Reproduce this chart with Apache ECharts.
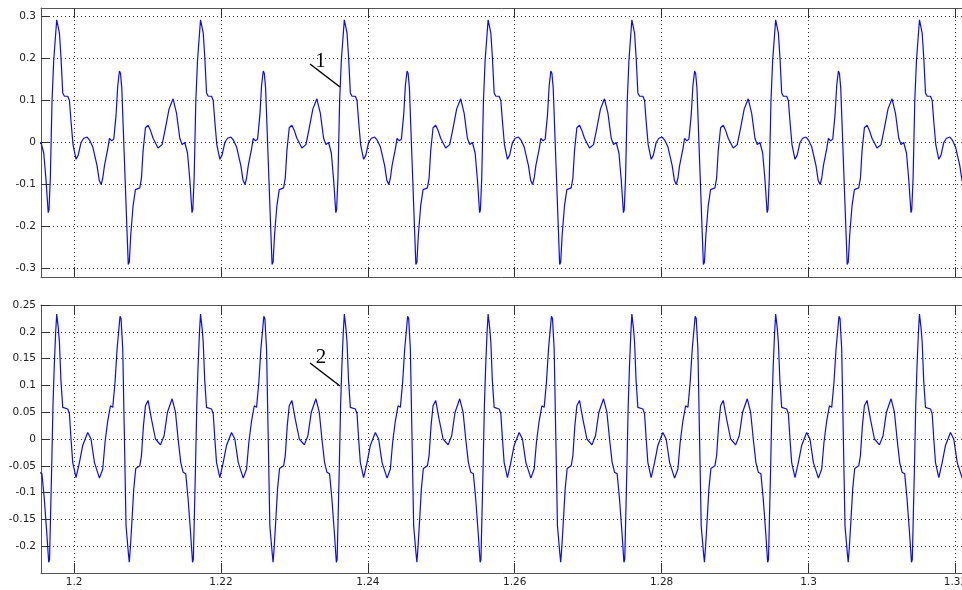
<!DOCTYPE html>
<html>
<head>
<meta charset="utf-8">
<script src="https://cdn.jsdelivr.net/npm/echarts@6/dist/echarts.min.js"></script>
<style>
html, body { margin: 0; padding: 0; background: #fff; }
#chart { width: 962px; height: 590px; }
</style>
</head>
<body>
<div id="chart"></div>
<script>
// time axis (s)
const xMin = 1.1955
const xMax = 1.3209
const xTicks = [1.2, 1.22, 1.24, 1.26, 1.28, 1.3, 1.32]
const topTicks = [-0.3, -0.2, -0.1, 0, 0.1, 0.2, 0.3]
const bottomTicks = [-0.2, -0.15, -0.1, -0.05, 0, 0.05, 0.1, 0.15, 0.2, 0.25]

// times of the big positive spike of each cycle
const cycleStarts = [1.17806, 1.19764, 1.21722, 1.23680, 1.25638, 1.27595, 1.29553, 1.31511]

// one cycle of curve 1, offsets from the spike in ms
const topOffsetsMs = [0, 0.14, 0.37, 0.59, 0.82, 1.05, 1.50, 1.73, 1.95, 2.22, 2.63, 2.93, 3.31, 3.68, 4.13,
    4.50, 4.90, 5.49, 5.79, 6.04, 6.27, 6.50, 6.95, 7.18, 7.49, 7.77, 8.08, 8.31, 8.54, 8.68, 8.86, 9.13,
    9.36, 9.58, 9.74, 9.88, 10.08, 10.40, 10.72, 11.31, 11.54, 11.76, 12.08, 12.44, 12.74, 13.12, 13.80,
    14.35, 14.81, 15.30, 15.84, 16.01, 16.31, 16.76, 17.07, 17.44, 17.81, 18.12, 18.42, 18.53, 18.71,
    18.94, 19.17]
const topValues = [0.292, 0.29, 0.26, 0.2, 0.118, 0.11, 0.11, 0.1, 0.05, -0.005, -0.04, -0.03, 0, 0.01, 0.013,
    0.005, -0.01, -0.055, -0.09, -0.1, -0.085, -0.055, -0.015, 0.01, 0.004, 0.008, 0.065, 0.135, 0.17, 0.165, 0.13, 0,
    -0.11, -0.215, -0.29, -0.285, -0.22, -0.15, -0.112, -0.108, -0.085, -0.02, 0.035, 0.041, 0.03, 0.01, -0.013,
    -0.005, 0.035, 0.08, 0.104, 0.1, 0.07, 0.01, -0.005, 0, -0.025, -0.088, -0.167, -0.16, -0.085,
    0.098, 0.195]

// one cycle of curve 2
const bottomOffsetsMs = [0, 0.14, 0.23, 0.37, 0.57, 0.82, 1.05, 1.50, 1.73, 1.95, 2.18, 2.63, 3.09, 3.54, 4.22,
    4.67, 5.14, 5.82, 6.27, 6.58, 6.95, 7.32, 7.63, 7.94, 8.22, 8.62, 8.76, 8.99, 9.22, 9.44, 9.77, 9.88,
    10.04, 10.26, 10.49, 10.76, 11.31, 11.54, 11.81, 12.08, 12.44, 12.90, 13.45, 14.13, 14.62, 15.08, 15.71,
    16.17, 16.53, 16.89, 17.21, 17.57, 17.89, 18.22, 18.49, 18.60, 18.71, 18.90, 19.07, 19.25, 19.44]
const bottomValues = [0.233, 0.23, 0.205, 0.18, 0.11, 0.059, 0.056, 0.056, 0.047, 0, -0.044, -0.072, -0.044, -0.012, 0.012,
    0, -0.044, -0.073, -0.056, -0.006, 0.034, 0.062, 0.059, 0.106, 0.168, 0.229, 0.225, 0.168, 0, -0.162, -0.215, -0.23,
    -0.2, -0.149, -0.093, -0.055, -0.05, -0.031, 0.025, 0.062, 0.072, 0.037, 0, -0.011, 0.006, 0.05, 0.075,
    0.05, 0, -0.044, -0.062, -0.065, -0.112, -0.174, -0.23, -0.225, -0.162, -0.05, 0.062, 0.137, 0.2]

function buildWave(offsetsMs, values) {
    let pts = []
    for (const t0 of cycleStarts) {
        for (let i = 0; i < offsetsMs.length; i++) {
            pts.push([t0 + offsetsMs[i] / 1000, values[i]])
        }
    }
    return pts
}

function fmt(v) {
    return String(+v.toFixed(2))
}

const frameColor = '#555'
const dotted = { color: '#333', width: 1, type: [1, 3] }
const labelStyle = { fontFamily: 'DejaVu Sans', fontSize: 10.5, color: '#222', formatter: fmt }

function xAxisFor(grid, pos, withLabels) {
    return {
        type: 'value', gridIndex: grid, position: pos, min: xMin, max: xMax,
        axisLine: { onZero: false, lineStyle: { color: frameColor, width: 1 } },
        axisTick: { inside: true, length: 10, customValues: xTicks, lineStyle: { color: '#333' } },
        axisLabel: Object.assign({ show: withLabels, customValues: xTicks, margin: 4, hideOverlap: false }, labelStyle),
        splitLine: { show: pos === 'bottom', lineStyle: dotted }
    }
}

function yAxisFor(grid, min, max, ticks) {
    return {
        type: 'value', gridIndex: grid, min: min, max: max,
        axisLine: { show: true, onZero: false, lineStyle: { color: frameColor, width: 1 } },
        axisTick: { show: true, inside: true, length: 9, customValues: ticks, lineStyle: { color: '#333' } },
        axisLabel: Object.assign({ customValues: ticks, margin: 5 }, labelStyle),
        splitLine: { show: true, lineStyle: dotted }
    }
}

function waveSeries(xi, yi, data) {
    return {
        type: 'line', xAxisIndex: xi, yAxisIndex: yi, data: data,
        showSymbol: false, smooth: false, clip: true,
        lineStyle: { color: '#0a0aff', width: 1.2 }
    }
}

let chart = echarts.init(document.getElementById('chart'))
chart.setOption({
    animation: false,
    backgroundColor: '#fff',
    grid: [
        { left: 41, top: 8, right: 0, height: 269, containLabel: false, outerBoundsMode: 'none' },
        { left: 41, top: 305, right: 0, height: 268, containLabel: false, outerBoundsMode: 'none' }
    ],
    xAxis: [
        xAxisFor(0, 'bottom', false),
        xAxisFor(0, 'top', false),
        xAxisFor(1, 'bottom', true),
        xAxisFor(1, 'top', false)
    ],
    yAxis: [
        yAxisFor(0, -0.32, 0.32, topTicks),
        yAxisFor(1, -0.25, 0.25, bottomTicks)
    ],
    series: [
        waveSeries(0, 0, buildWave(topOffsetsMs, topValues)),
        waveSeries(2, 1, buildWave(bottomOffsetsMs, bottomValues))
    ],
    graphic: [
        { type: 'line', shape: { x1: 310, y1: 64, x2: 340, y2: 87 }, style: { stroke: '#000', lineWidth: 1.5 } },
        { type: 'text', x: 320.5, y: 61, style: { text: '1', fontFamily: 'Liberation Serif', fontSize: 21, fill: '#000', align: 'center', verticalAlign: 'middle' } },
        { type: 'line', shape: { x1: 310, y1: 363, x2: 340, y2: 386 }, style: { stroke: '#000', lineWidth: 1.5 } },
        { type: 'text', x: 321, y: 357.5, style: { text: '2', fontFamily: 'Liberation Serif', fontSize: 21, fill: '#000', align: 'center', verticalAlign: 'middle' } }
    ]
})
</script>
</body>
</html>
